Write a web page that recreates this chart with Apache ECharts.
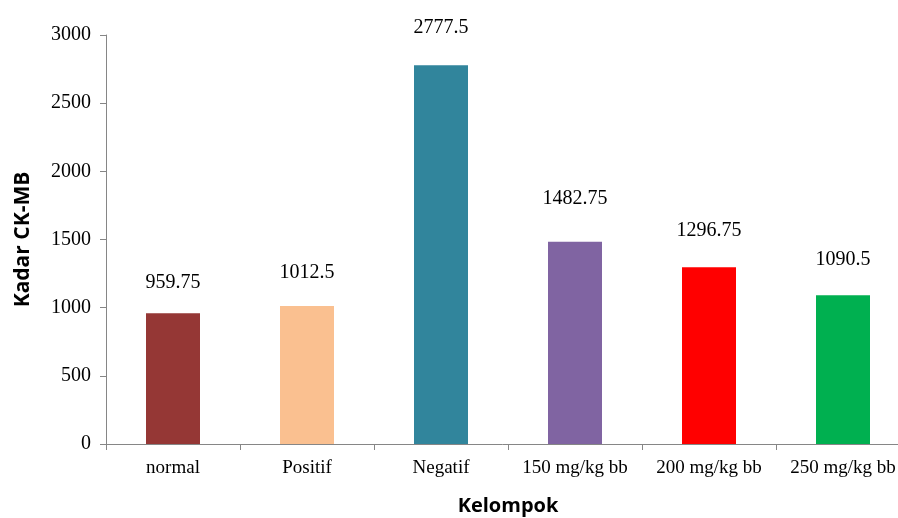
<!DOCTYPE html>
<html>
<head>
<meta charset="utf-8">
<script src="https://cdn.jsdelivr.net/npm/echarts@6/dist/echarts.min.js"></script>
<style>
html,body{margin:0;padding:0;background:#fff;}
#chart{width:898px;height:518px;}
</style>
</head>
<body>
<div id="chart"></div>
<script>
var categories = ['normal', 'Positif', 'Negatif', '150 mg/kg bb', '200 mg/kg bb', '250 mg/kg bb'];
var values = [959.75, 1012.5, 2777.5, 1482.75, 1296.75, 1090.5];
var barColors = ['#953735', '#FAC090', '#31859C', '#8064A2', '#FF0000', '#00B050'];
var yTicks = [0, 500, 1000, 1500, 2000, 2500, 3000];
var labelGaps = [20, 23, 28, 33, 26, 26];

var chart = echarts.init(document.getElementById('chart'));
var axisGray = '#868686';
var serif = '"Liberation Serif", "Times New Roman", serif';
var sans = '"Open Sans", "Liberation Sans", sans-serif';

var seriesData = values.map(function (v, i) {
  return {
    value: v,
    itemStyle: { color: barColors[i] },
    label: { distance: labelGaps[i] }
  };
});

chart.setOption({
  animation: false,
  backgroundColor: '#ffffff',
  grid: { left: 106, width: 804, top: 35, bottom: 74, containLabel: false, outerBoundsMode: 'none' },
  xAxis: {
    type: 'category',
    data: categories,
    name: 'Kelompok',
    nameLocation: 'middle',
    nameGap: 52,
    nameTextStyle: { fontFamily: sans, fontWeight: 'bold', fontSize: 20, color: '#000' },
    axisLine: { lineStyle: { color: axisGray, width: 1 } },
    axisTick: { show: true, length: 6, lineStyle: { color: axisGray } },
    axisLabel: { fontFamily: serif, fontSize: 19, color: '#000', margin: 15, interval: 0 },
    splitLine: { show: false }
  },
  yAxis: {
    type: 'value',
    min: yTicks[0],
    max: yTicks[yTicks.length - 1],
    interval: yTicks[1] - yTicks[0],
    name: 'Kadar CK-MB',
    nameLocation: 'middle',
    nameGap: 72,
    nameTextStyle: { fontFamily: sans, fontWeight: 'bold', fontSize: 21, color: '#000' },
    axisLine: { show: true, lineStyle: { color: axisGray, width: 1 } },
    axisTick: { show: true, length: 6, lineStyle: { color: axisGray } },
    axisLabel: {
      fontFamily: serif, fontSize: 20, color: '#000', margin: 15,
      formatter: function (v) { return String(v); }
    },
    splitLine: { show: false }
  },
  series: [{
    type: 'bar',
    data: seriesData,
    barWidth: 54,
    label: {
      show: true,
      position: 'top',
      fontFamily: serif,
      fontSize: 20,
      color: '#000'
    }
  }]
});
</script>
</body>
</html>
